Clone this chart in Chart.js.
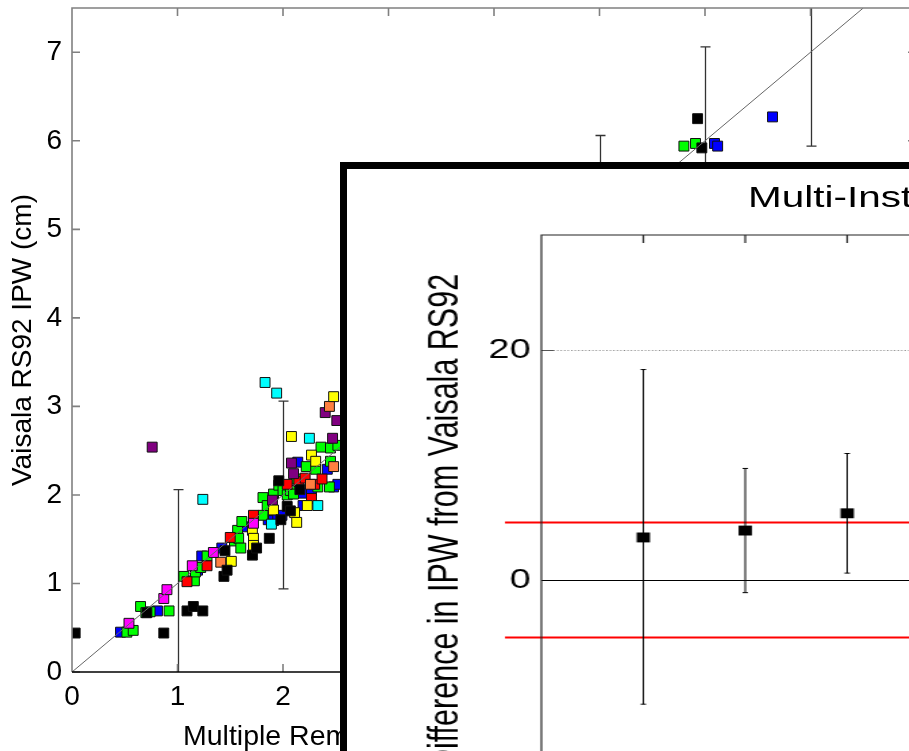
<!DOCTYPE html>
<html>
<head>
<meta charset="utf-8">
<script src="https://cdn.jsdelivr.net/npm/chart.js@4.4.1/dist/chart.umd.min.js"></script>
<style>
  html, body { margin: 0; padding: 0; width: 909px; height: 751px; overflow: hidden; background: #fff; }
  body { position: relative; font-family: 'Liberation Sans', Arial, Helvetica, sans-serif; color: #000; }
  #main-wrap { position: absolute; left: 0; top: 0; width: 940px; height: 751px; }
  #x-title { position: absolute; left: 183px; top: 721px; font-size: 28.5px; line-height: 1; white-space: nowrap; }
  #inset { position: absolute; left: 340px; top: 162px; width: 700px; height: 720px; border: 7px solid #000; background: #fff; overflow: hidden; }
  #inset-scale { position: absolute; left: 0; top: 0; width: 460px; height: 661px; transform: scaleX(1.35); transform-origin: 0 0; }
  #inset-wrap { position: absolute; left: 0; top: 0; width: 460px; height: 661px; }
  #inset-title { position: absolute; left: 297px; top: 13px; font-size: 30px; line-height: 1; white-space: nowrap; }
</style>
</head>
<body>
<div id="main-wrap"><canvas id="mainChart"></canvas></div>
<div id="x-title">Multiple Remote Sensor IPW (cm)</div>
<div id="inset">
  <div id="inset-scale">
    <div id="inset-title">Multi-Instrument Comparison</div>
    <div id="inset-wrap"><canvas id="insetChart"></canvas></div>
  </div>
</div>
<script>
// ---- main scatter: one pair of arrays per instrument colour ----
const blackX = [0.03, 0.71, 0.87, 1.09, 1.15, 1.24, 1.44, 1.47, 1.45, 1.71, 1.75, 1.87, 1.98, 1.96, 2.04, 2.07, 2.16, 5.93, 5.97];
const blackY = [0.44, 0.67, 0.44, 0.69, 0.74, 0.69, 1.08, 1.15, 1.37, 1.32, 1.40, 1.51, 1.72, 2.16, 1.87, 1.82, 2.06, 6.25, 5.92];
const blueX = [0.46, 0.81, 1.19, 1.23, 1.42, 1.62, 1.86, 1.91, 1.95, 1.99, 2.14, 2.19, 2.19, 2.27, 2.42, 2.48, 2.52, 6.09, 6.12, 6.64];
const blueY = [0.45, 0.69, 1.15, 1.31, 1.40, 1.64, 1.72, 1.71, 1.75, 1.77, 2.37, 2.02, 1.88, 2.05, 2.29, 2.09, 2.12, 5.97, 5.94, 6.27];
const greenX = [0.52, 0.58, 0.65, 0.70, 0.74, 0.92, 1.06, 1.16, 1.17, 1.22, 1.28, 1.54, 1.57, 1.58, 1.60, 1.61, 1.81, 1.81, 1.85, 1.91, 1.96, 2.00, 2.04, 2.07, 2.10, 2.13, 2.22, 2.31, 2.33, 2.36, 2.44, 2.45, 2.45, 2.52, 5.80, 5.91];
const greenY = [0.45, 0.47, 0.74, 0.67, 0.68, 0.69, 1.08, 1.03, 1.13, 1.18, 1.31, 1.48, 1.60, 1.51, 1.40, 1.70, 1.77, 1.97, 1.88, 2.01, 2.11, 2.05, 2.00, 2.05, 2.01, 2.18, 2.32, 2.29, 2.09, 2.54, 2.09, 2.53, 2.38, 2.56, 5.94, 5.97];
const redX = [1.09, 1.28, 1.50, 1.72, 2.04, 2.15, 2.21, 2.27, 2.30, 2.37];
const redY = [1.02, 1.20, 1.52, 1.77, 2.12, 2.15, 2.19, 1.96, 2.12, 2.18];
const yellowX = [1.51, 1.71, 1.72, 1.72, 1.91, 2.08, 2.11, 2.13, 2.23, 2.27, 2.31, 2.48];
const yellowY = [1.25, 1.60, 1.51, 1.43, 1.83, 2.66, 1.80, 1.69, 1.88, 2.45, 2.38, 3.11];
const cyanX = [1.24, 1.83, 1.89, 1.94, 2.25, 2.33];
const cyanY = [1.95, 3.27, 1.67, 3.15, 2.64, 1.88];
const magentaX = [0.54, 0.87, 0.90, 1.14, 1.34, 1.72];
const magentaY = [0.55, 0.83, 0.93, 1.20, 1.35, 1.68];
const purpleX = [0.76, 1.90, 2.08, 2.10, 2.40, 2.47, 2.51];
const purpleY = [2.54, 1.94, 2.36, 2.24, 2.93, 2.64, 2.84];
const orangeX = [1.41, 2.26, 2.44, 2.48];
const orangeY = [1.24, 2.12, 3.00, 2.32];

const oneToOne = [0, 7.5];
const barX = [1, 2, 3, 4, 5, 6, 7];
const barLow = [-0.06, 0.94, 1.94, 2.94, 3.94, 4.94, 5.94];
const barHigh = [2.06, 3.06, 4.06, 5.06, 6.06, 7.06, 8.06];

// ---- inset: mean difference (%) per instrument ----
const instX = [1, 2, 3];
const instMean = [3.7, 4.3, 5.8];
const instLow = [-10.8, -1.1, 0.6];
const instHigh = [18.3, 9.7, 11.0];
const limitLines = [5, -5];
const refLine = 20;

Chart.defaults.font.family = "'Liberation Sans', Arial, Helvetica, sans-serif";
Chart.defaults.color = '#000';

function series(xs, ys, fill) {
    return {
        data: xs.map((v, i) => ({ x: v, y: ys[i] })),
        pointStyle: 'rect',
        pointRadius: 7,
        backgroundColor: fill,
        borderColor: '#111',
        borderWidth: 1
    };
}

// no extra room for overhanging tick labels: keep the plot box fixed
function noOverhang(s) {
    s.paddingTop = 0; s.paddingBottom = 0; s.paddingLeft = 0; s.paddingRight = 0;
}

// error bars under the points, frame + inward ticks on top
const mainFrame = {
    id: 'mainFrame',
    beforeDatasetsDraw(chart) {
        const { ctx, chartArea: a, scales: { x, y } } = chart;
        ctx.save();
        ctx.beginPath();
        ctx.rect(a.left, a.top, a.right - a.left, a.bottom - a.top);
        ctx.clip();
        ctx.strokeStyle = '#333';
        ctx.lineWidth = 1.3;
        barX.forEach((v, i) => {
            const px = Math.round(x.getPixelForValue(v)) + 0.5;
            const y1 = y.getPixelForValue(barLow[i]);
            const y2 = y.getPixelForValue(barHigh[i]);
            ctx.beginPath();
            ctx.moveTo(px, y1); ctx.lineTo(px, y2);
            ctx.moveTo(px - 5, y1); ctx.lineTo(px + 5, y1);
            ctx.moveTo(px - 5, y2); ctx.lineTo(px + 5, y2);
            ctx.stroke();
        });
        ctx.restore();
    },
    afterDraw(chart) {
        const { ctx, chartArea: a, scales: { x, y } } = chart;
        ctx.save();
        ctx.strokeStyle = '#808080';
        ctx.lineWidth = 1.6;
        ctx.beginPath();
        ctx.moveTo(a.left, a.bottom); ctx.lineTo(a.left, a.top);
        ctx.lineTo(a.right, a.top); ctx.lineTo(a.right, a.bottom);
        x.ticks.forEach(t => {
            const px = x.getPixelForValue(t.value);
            ctx.moveTo(px, a.top); ctx.lineTo(px, a.top + 8);
            ctx.moveTo(px, a.bottom); ctx.lineTo(px, a.bottom - 8);
        });
        y.ticks.forEach(t => {
            const py = y.getPixelForValue(t.value);
            ctx.moveTo(a.left, py); ctx.lineTo(a.left + 8, py);
            ctx.moveTo(a.right, py); ctx.lineTo(a.right - 8, py);
        });
        ctx.stroke();
        ctx.strokeStyle = '#000';
        ctx.lineWidth = 1.5;
        ctx.beginPath();
        ctx.moveTo(a.left, a.bottom); ctx.lineTo(a.right, a.bottom);
        ctx.stroke();
        ctx.restore();
    }
};

new Chart(document.getElementById('mainChart'), {
    type: 'scatter',
    data: {
        datasets: [
            {
                type: 'line',
                data: oneToOne.map(v => ({ x: v, y: v })),
                borderColor: '#666',
                borderWidth: 1,
                pointRadius: 0,
                fill: false
            },
            series(blackX, blackY, '#000000'),
            series(magentaX, magentaY, '#ff00ff'),
            series(cyanX, cyanY, '#00ffff'),
            series(yellowX, yellowY, '#ffff00'),
            series(orangeX, orangeY, '#ff7f40'),
            series(purpleX, purpleY, '#800080'),
            series(redX, redY, '#ff0000'),
            series(greenX, greenY, '#00ff00'),
            series(blueX, blueY, '#0000ff')
        ]
    },
    options: {
        responsive: true,
        maintainAspectRatio: false,
        animation: false,
        layout: { padding: { top: 7, right: 24, left: 0, bottom: 0 } },
        plugins: { legend: { display: false }, tooltip: { enabled: false } },
        scales: {
            x: {
                type: 'linear', min: 0, max: 8,
                grid: { display: false, drawTicks: false },
                border: { display: false },
                ticks: { stepSize: 1, padding: 8, font: { size: 28 }, color: '#000' },
                afterFit: s => { s.height = 79; noOverhang(s); }
            },
            y: {
                type: 'linear', min: 0, max: 7.5,
                grid: { display: false, drawTicks: false },
                border: { display: false },
                ticks: { stepSize: 1, includeBounds: false, padding: 10, font: { size: 28 }, color: '#000' },
                title: { display: true, text: 'Vaisala RS92 IPW (cm)', color: '#000', font: { size: 28 }, padding: { top: 6, bottom: 0 } },
                afterFit: s => { s.width = 72; noOverhang(s); }
            }
        }
    },
    plugins: [mainFrame]
});

// inset reference lines, error bars and axes
const insetFrame = {
    id: 'insetFrame',
    beforeDatasetsDraw(chart) {
        const { ctx, chartArea: a, scales: { x, y } } = chart;
        ctx.save();
        // dotted reference
        const pr = Math.round(y.getPixelForValue(refLine)) + 0.5;
        ctx.strokeStyle = '#888';
        ctx.lineWidth = 1;
        ctx.setLineDash([1, 1.6]);
        ctx.beginPath(); ctx.moveTo(a.left + 9, pr); ctx.lineTo(chart.width, pr); ctx.stroke();
        ctx.setLineDash([]);
        ctx.strokeStyle = '#555';
        ctx.beginPath(); ctx.moveTo(a.left, pr); ctx.lineTo(a.left + 9, pr); ctx.stroke();
        // zero line
        const p0 = Math.round(y.getPixelForValue(0)) + 0.5;
        ctx.strokeStyle = '#000';
        ctx.beginPath(); ctx.moveTo(a.left, p0); ctx.lineTo(chart.width, p0); ctx.stroke();
        // red limits
        ctx.strokeStyle = '#ff0000';
        ctx.lineWidth = 2;
        limitLines.forEach(v => {
            const py = y.getPixelForValue(v);
            ctx.beginPath(); ctx.moveTo(a.left - 27, py); ctx.lineTo(chart.width, py); ctx.stroke();
        });
        // error bars
        ctx.strokeStyle = '#000';
        ctx.lineWidth = 1;
        instX.forEach((v, i) => {
            const px = x.getPixelForValue(v);
            const y1 = y.getPixelForValue(instLow[i]);
            const y2 = y.getPixelForValue(instHigh[i]);
            ctx.beginPath();
            ctx.moveTo(px, y1); ctx.lineTo(px, y2);
            ctx.moveTo(px - 2, y1); ctx.lineTo(px + 2, y1);
            ctx.moveTo(px - 2, y2); ctx.lineTo(px + 2, y2);
            ctx.stroke();
        });
        // axes: left and top with inward ticks
        ctx.strokeStyle = '#222';
        ctx.lineWidth = 1.2;
        ctx.beginPath();
        ctx.moveTo(a.left, a.bottom + 40); ctx.lineTo(a.left, a.top); ctx.lineTo(chart.width, a.top);
        instX.forEach(v => {
            const px = x.getPixelForValue(v);
            ctx.moveTo(px, a.top); ctx.lineTo(px, a.top + 8);
        });
        ctx.stroke();
        ctx.restore();
    }
};

new Chart(document.getElementById('insetChart'), {
    type: 'scatter',
    data: {
        datasets: [{
            data: instX.map((v, i) => ({ x: v, y: instMean[i] })),
            pointStyle: 'rect',
            pointRadius: 7,
            backgroundColor: '#000',
            borderColor: '#000',
            borderWidth: 0
        }]
    },
    options: {
        responsive: true,
        maintainAspectRatio: false,
        animation: false,
        layout: { padding: { top: 66, right: 14, bottom: 20, left: 0 } },
        plugins: { legend: { display: false }, tooltip: { enabled: false } },
        scales: {
            x: { type: 'linear', display: false, min: 0, max: 4 },
            y: {
                type: 'linear', min: -20, max: 30,
                grid: { display: false, drawTicks: false },
                border: { display: false },
                ticks: { stepSize: 20, includeBounds: false, padding: 8, font: { size: 28 }, color: '#000' },
                title: { display: true, text: 'Difference in IPW from Vaisala RS92', color: '#000', font: { size: 30.5 }, padding: { top: 55, bottom: 0 } },
                afterFit: s => { s.width = 144; noOverhang(s); }
            }
        }
    },
    plugins: [insetFrame]
});
</script>
</body>
</html>
